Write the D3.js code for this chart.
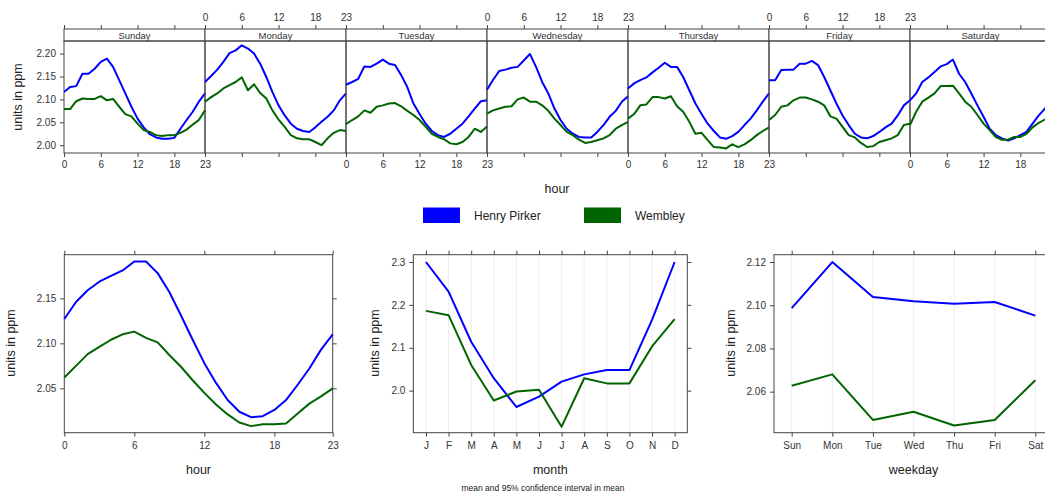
<!DOCTYPE html>
<html><head><meta charset="utf-8">
<script src="https://cdn.jsdelivr.net/npm/d3@7"></script>
<style>body{margin:0;background:#fff}svg{display:block;font-family:"Liberation Sans",Arial,sans-serif}</style>
</head><body><svg id="c" width="1045" height="498"></svg>
<script>
// ---------- DATA ----------
const days = ["Sunday","Monday","Tuesday","Wednesday","Thursday","Friday","Saturday"];
const hours = d3.range(24);
const hourTicks = [0,6,12,18,23];
const seriesNames = ["Henry Pirker","Wembley"];
const seriesColors = ["#0000ff","#006400"];

const pirkerDayHour = [
 [2.116,2.127,2.129,2.156,2.156,2.167,2.182,2.189,2.171,2.142,2.113,2.084,2.058,2.039,2.024,2.017,2.014,2.014,2.016,2.036,2.055,2.073,2.095,2.113],
 [2.138,2.151,2.165,2.182,2.201,2.207,2.218,2.211,2.200,2.178,2.149,2.116,2.087,2.065,2.047,2.036,2.031,2.029,2.039,2.051,2.062,2.076,2.098,2.113],
 [2.132,2.138,2.145,2.172,2.171,2.178,2.187,2.178,2.175,2.153,2.127,2.091,2.068,2.047,2.031,2.022,2.018,2.025,2.036,2.047,2.063,2.080,2.096,2.098],
 [2.121,2.143,2.162,2.165,2.169,2.171,2.185,2.199,2.171,2.138,2.113,2.080,2.055,2.036,2.025,2.018,2.017,2.017,2.029,2.044,2.062,2.075,2.095,2.107],
 [2.124,2.135,2.142,2.148,2.159,2.169,2.180,2.171,2.171,2.149,2.120,2.091,2.068,2.047,2.031,2.017,2.014,2.020,2.029,2.044,2.058,2.076,2.095,2.113],
 [2.142,2.142,2.164,2.165,2.165,2.178,2.178,2.184,2.175,2.149,2.120,2.091,2.065,2.044,2.025,2.017,2.015,2.020,2.029,2.039,2.047,2.065,2.087,2.098],
 [2.098,2.113,2.138,2.148,2.160,2.172,2.177,2.187,2.156,2.138,2.113,2.087,2.062,2.036,2.022,2.015,2.010,2.015,2.022,2.029,2.047,2.065,2.080,2.095]
];
const wembleyDayHour = [
 [2.079,2.079,2.096,2.102,2.101,2.101,2.107,2.098,2.101,2.084,2.068,2.063,2.047,2.033,2.029,2.022,2.020,2.022,2.022,2.027,2.034,2.045,2.055,2.076],
 [2.095,2.105,2.113,2.124,2.131,2.138,2.148,2.120,2.133,2.114,2.102,2.076,2.056,2.040,2.022,2.015,2.013,2.013,2.007,2.000,2.015,2.027,2.033,2.031],
 [2.046,2.055,2.063,2.076,2.071,2.084,2.087,2.091,2.092,2.085,2.075,2.066,2.055,2.040,2.025,2.018,2.013,2.004,2.002,2.007,2.018,2.036,2.029,2.041],
 [2.069,2.076,2.080,2.084,2.085,2.100,2.104,2.095,2.095,2.087,2.075,2.058,2.044,2.029,2.022,2.012,2.005,2.007,2.011,2.015,2.022,2.036,2.044,2.051],
 [2.058,2.068,2.087,2.089,2.105,2.105,2.102,2.107,2.085,2.073,2.051,2.025,2.027,2.011,1.996,1.995,1.993,2.002,1.996,2.002,2.011,2.022,2.031,2.039],
 [2.055,2.066,2.084,2.087,2.098,2.104,2.104,2.100,2.095,2.087,2.063,2.058,2.040,2.022,2.017,2.005,1.996,1.998,2.007,2.011,2.015,2.022,2.044,2.047],
 [2.044,2.073,2.095,2.104,2.113,2.129,2.129,2.130,2.113,2.095,2.084,2.066,2.047,2.033,2.018,2.012,2.012,2.018,2.018,2.025,2.039,2.049,2.056,2.062]
];

const pirkerHour = [2.127,2.146,2.159,2.1685,2.175,2.181,2.191,2.191,2.178,2.157,2.131,2.104,2.078,2.056,2.037,2.024,2.018,2.019,2.026,2.037,2.054,2.072,2.093,2.110];
const wembleyHour = [2.062,2.075,2.088,2.096,2.104,2.110,2.113,2.106,2.101,2.087,2.074,2.059,2.045,2.032,2.021,2.012,2.008,2.010,2.010,2.011,2.022,2.033,2.041,2.050];

const months = ["J","F","M","A","M ","J ","J  ","A ","S","O","N","D"];
const pirkerMonth = [2.300,2.231,2.114,2.029,1.962,1.986,2.021,2.038,2.048,2.048,2.165,2.300];
const wembleyMonth = [2.186,2.176,2.060,1.977,1.998,2.002,1.916,2.029,2.017,2.017,2.103,2.167];

const weekdays = ["Sun","Mon","Tue","Wed","Thu","Fri","Sat"];
const pirkerWeekday = [2.0987,2.1200,2.1038,2.1018,2.1007,2.1015,2.0952];
const wembleyWeekday = [2.0627,2.0680,2.0469,2.0507,2.0443,2.0469,2.0653];

const topYTicks = [2.00,2.05,2.10,2.15,2.20];
const hourYTicks = [2.05,2.10,2.15];
const monthYTicks = [2.0,2.1,2.2,2.3];
const weekdayYTicks = [2.06,2.08,2.10,2.12];

// ---------- DRAW ----------
const W = 1045;
const svg = d3.select("#c");
const AX = "#444", TXT = "#333";
const tickFont = 10;

function line(g, xs, ys, vals, color){
  g.append("path").datum(vals)
   .attr("fill","none").attr("stroke",color).attr("stroke-width",2).attr("stroke-linejoin","round")
   .attr("d", d3.line().x((d,i)=>xs(i)).y(d=>ys(d)));
}

// ===== Top panel =====
const T = {left:64, panelW:141, top:29, strip:41, bottom:153};
const yTop = d3.scaleLinear().domain([1.983,2.2275]).range([T.bottom,T.strip]);
const topG = svg.append("g");
const clipId = "topclip";
svg.append("defs").append("clipPath").attr("id",clipId).append("rect")
  .attr("x",T.left).attr("y",T.strip).attr("width",T.panelW*7).attr("height",T.bottom-T.strip);

days.forEach((day,i)=>{
  const x0 = T.left + i*T.panelW;
  const xs = d3.scaleLinear().domain([0,23]).range([x0, x0+T.panelW]);
  const g = topG.append("g");
  // strip
  g.append("rect").attr("x",x0).attr("y",T.top).attr("width",T.panelW).attr("height",T.strip-T.top)
   .attr("fill","#fff").attr("stroke",AX).attr("stroke-width",1);
  g.append("text").attr("x",(x0+x0+T.panelW)/2).attr("y",(T.top+T.strip)/2+3.5)
   .attr("text-anchor","middle").attr("font-size",9.5).attr("fill",TXT).text(day);
  // panel border
  g.append("rect").attr("x",x0).attr("y",T.strip).attr("width",T.panelW).attr("height",T.bottom-T.strip)
   .attr("fill","none").attr("stroke",AX).attr("stroke-width",1);
  const visibleTicks = hourTicks.filter(h => xs(h) < W - 4);
  const bAx = d3.axisBottom(xs).tickValues(visibleTicks).tickSize(4).tickSizeOuter(0);
  const bg = g.append("g").attr("transform",`translate(0,${T.bottom})`).call(bAx);
  const tAx = d3.axisTop(xs).tickValues(visibleTicks).tickSize(4).tickSizeOuter(0);
  const tg = g.append("g").attr("transform",`translate(0,${T.top})`).call(tAx);
  [bg,tg].forEach(a=>{a.select(".domain").remove();a.selectAll("line").attr("stroke",AX);
    a.selectAll("text").attr("font-size",tickFont).attr("fill",TXT).attr("font-family","Liberation Sans, Arial, sans-serif");});
  if(i%2===0){ tg.selectAll("text").remove(); bg.selectAll("text").attr("dy","0.71em").attr("y",8); }
  else { bg.selectAll("text").remove(); tg.selectAll("text").attr("y",-8); }
  const lg = g.append("g").attr("clip-path",`url(#${clipId})`);
  line(lg, xs, yTop, pirkerDayHour[i], seriesColors[0]);
  line(lg, xs, yTop, wembleyDayHour[i], seriesColors[1]);
});
{
  const a = svg.append("g").attr("transform",`translate(${T.left},0)`)
    .call(d3.axisLeft(yTop).tickValues(topYTicks).tickFormat(d3.format(".2f")).tickSize(4).tickSizeOuter(0));
  a.select(".domain").remove(); a.selectAll("line").attr("stroke",AX);
  a.selectAll("text").attr("font-size",tickFont).attr("fill",TXT).attr("x",-8).attr("font-family","Liberation Sans, Arial, sans-serif");
  svg.append("text").attr("transform",`translate(22,97) rotate(-90)`).attr("text-anchor","middle")
    .attr("font-size",12.5).attr("fill","#222").text("units in ppm");
  svg.append("text").attr("x",557).attr("y",193).attr("text-anchor","middle").attr("font-size",12.5).attr("fill","#222").text("hour");
}

// ===== Legend =====
const legX = [423,584];
seriesNames.forEach((n,i)=>{
  svg.append("rect").attr("x",legX[i]).attr("y",207.5).attr("width",37).attr("height",15.5).attr("fill",seriesColors[i]);
  svg.append("text").attr("x",legX[i]+51).attr("y",219.5).attr("font-size",12).attr("fill","#222").text(n);
});

// ===== Bottom panels =====
const B = {top:254.7, bottom:432.7};
function panel(x0, x1, xs, ys, yTicks, yFmt, xTicks, xFmt, pVals, wVals, xTitle, yTitleX, grid){
  const g = svg.append("g");
  if(grid){
    g.selectAll(".gl").data(xTicks).enter().append("line")
      .attr("x1",d=>xs(d)).attr("x2",d=>xs(d)).attr("y1",B.top).attr("y2",B.bottom)
      .attr("stroke","#eeeeee").attr("stroke-width",1);
  }
  g.append("rect").attr("x",x0).attr("y",B.top).attr("width",x1-x0).attr("height",B.bottom-B.top)
   .attr("fill","none").attr("stroke",AX).attr("stroke-width",1);
  const style = a=>{a.select(".domain").remove();a.selectAll("line").attr("stroke",AX);
    a.selectAll("text").attr("font-size",tickFont).attr("fill",TXT).attr("font-family","Liberation Sans, Arial, sans-serif");};
  const l = g.append("g").attr("transform",`translate(${x0},0)`)
    .call(d3.axisLeft(ys).tickValues(yTicks).tickFormat(d3.format(yFmt)).tickSize(4).tickSizeOuter(0));
  style(l); l.selectAll("text").attr("x",-8);
  const r = g.append("g").attr("transform",`translate(${x1},0)`)
    .call(d3.axisRight(ys).tickValues(yTicks).tickSize(4).tickSizeOuter(0));
  style(r); r.selectAll("text").remove();
  const b = g.append("g").attr("transform",`translate(0,${B.bottom})`)
    .call(d3.axisBottom(xs).tickValues(xTicks).tickFormat(xFmt).tickSize(4).tickSizeOuter(0));
  style(b); b.selectAll("text").attr("y",9);
  const t = g.append("g").attr("transform",`translate(0,${B.top})`)
    .call(d3.axisTop(xs).tickValues(xTicks).tickSize(4).tickSizeOuter(0));
  style(t); t.selectAll("text").remove();
  g.append("text").attr("x",(x0+x1)/2).attr("y",474).attr("text-anchor","middle").attr("font-size",12.5).attr("fill","#222").text(xTitle);
  g.append("text").attr("transform",`translate(${yTitleX},343) rotate(-90)`).attr("text-anchor","middle")
    .attr("font-size",12.5).attr("fill","#222").text("units in ppm");
  return g;
}
function series(g, xf, ys, pVals, wVals){
  [[pVals,seriesColors[0]],[wVals,seriesColors[1]]].forEach(([v,c])=>{
    g.append("path").datum(v).attr("fill","none").attr("stroke",c).attr("stroke-width",2).attr("stroke-linejoin","round")
     .attr("d", d3.line().x(xf).y(d=>ys(d)));
  });
}

// hour
{
  const xs = d3.scaleLinear().domain([0,23]).range([64.3,332.7]);
  const ys = d3.scaleLinear().domain([2.0007,2.1985]).range([B.bottom,B.top]);
  const g = panel(64.3,332.7,xs,ys,hourYTicks,".2f",hourTicks,null,pirkerHour,wembleyHour,"hour",15,false);
  series(g,(d,i)=>xs(hours[i]),ys,pirkerHour,wembleyHour);
}
// month
{
  const xs = d3.scalePoint().domain(months).range([413.3,687.3]).padding(0.56);
  const ys = d3.scaleLinear().domain([1.902,2.317]).range([B.bottom,B.top]);
  const g = panel(413.3,687.3,xs,ys,monthYTicks,".1f",months,d=>d.trim(),pirkerMonth,wembleyMonth,"month",379,true);
  series(g,(d,i)=>xs(months[i]),ys,pirkerMonth,wembleyMonth);
  svg.append("text").attr("x",543).attr("y",491).attr("text-anchor","middle").attr("font-size",8.5).attr("fill","#222")
    .text("mean and 95% confidence interval in mean");
}
// weekday
{
  const xs = d3.scalePoint().domain(weekdays).range([774,1053]).padding(0.436);
  const ys = d3.scaleLinear().domain([2.041,2.1234]).range([B.bottom,B.top]);
  const g = panel(774,1053,xs,ys,weekdayYTicks,".2f",weekdays,null,pirkerWeekday,wembleyWeekday,"weekday",735,true);
  series(g,(d,i)=>xs(weekdays[i]),ys,pirkerWeekday,wembleyWeekday);
}
</script></body></html>
